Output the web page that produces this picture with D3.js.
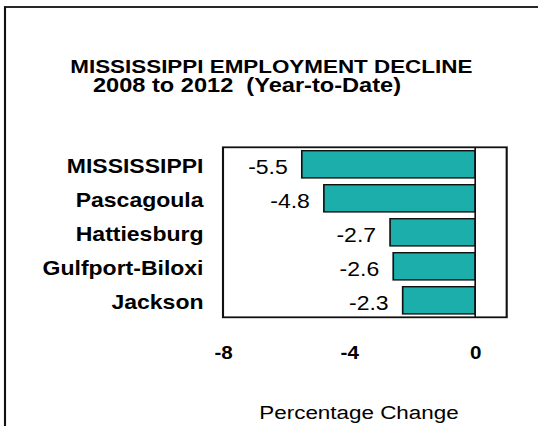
<!DOCTYPE html>
<html>
<head>
<meta charset="utf-8">
<script src="https://cdn.jsdelivr.net/npm/d3@7"></script>
<style>
  body { margin: 0; background: #fff; }
  svg { display: block; font-family: "Liberation Sans", Arial, sans-serif; }
</style>
</head>
<body>
<svg id="chart" width="538" height="426"></svg>
<script>
// datos
var areas = ["MISSISSIPPI", "Pascagoula", "Hattiesburg", "Gulfport-Biloxi", "Jackson"];
var cambio = [-5.5, -4.8, -2.7, -2.6, -2.3];
var ticksX = [-8, -4, 0];
var titulo = ["MISSISSIPPI EMPLOYMENT DECLINE", "2008 to 2012  (Year-to-Date)"];
var tituloEje = "Percentage Change";

// the original picture is stretched horizontally, so draw in a narrower
// logical space and let the viewBox widen it
var sx = 1.18,
    W = 538 / sx, H = 426;

var svg = d3.select("#chart")
    .attr("viewBox", "0 0 " + W + " " + H)
    .attr("preserveAspectRatio", "none");

var plot = {left: 223 / sx, right: 506.7 / sx, top: 147.3, bottom: 317.3};

var x = d3.scaleLinear()
    .domain([-8, 1])
    .range([plot.left, plot.right]);

var y = d3.scaleBand()
    .domain(areas)
    .range([plot.top, plot.bottom])
    .paddingInner(0.2)
    .paddingOuter(0.1);

var datos = areas.map(function(a, i) { return {area: a, valor: cambio[i]}; });

// marco exterior
svg.append("rect")
    .attr("x", 5 / sx)
    .attr("y", 7)
    .attr("width", W)
    .attr("height", H)
    .attr("fill", "none")
    .attr("stroke", "#111")
    .attr("stroke-width", 1.8);

// titulo
svg.append("text")
    .attr("x", 271.3 / sx)
    .attr("y", 72.7)
    .attr("text-anchor", "middle")
    .attr("font-weight", "bold")
    .attr("font-size", 19)
    .attr("fill", "#000")
    .text(titulo[0]);
svg.append("text")
    .attr("x", 247 / sx)
    .attr("y", 92.5)
    .attr("text-anchor", "middle")
    .attr("font-weight", "bold")
    .attr("font-size", 20)
    .attr("fill", "#000")
    .attr("xml:space", "preserve")
    .style("white-space", "pre")
    .text(titulo[1]);

// area del grafico
svg.append("rect")
    .attr("x", plot.left)
    .attr("y", plot.top)
    .attr("width", plot.right - plot.left)
    .attr("height", plot.bottom - plot.top)
    .attr("fill", "#fff")
    .attr("stroke", "#111")
    .attr("stroke-width", 1.8);

// barras
svg.append("g")
  .selectAll("rect")
  .data(datos)
  .enter().append("rect")
    .attr("x", function(d) { return x(d.valor); })
    .attr("y", function(d) { return y(d.area); })
    .attr("width", function(d) { return x(0) - x(d.valor); })
    .attr("height", y.bandwidth())
    .attr("fill", "#1BAEAA")
    .attr("stroke", "#111")
    .attr("stroke-width", 1.4);

// linea del cero
svg.append("line")
    .attr("x1", x(0)).attr("x2", x(0))
    .attr("y1", plot.top).attr("y2", plot.bottom)
    .attr("stroke", "#111")
    .attr("stroke-width", 1.4);

// etiquetas de valores
svg.append("g")
  .selectAll("text")
  .data(datos)
  .enter().append("text")
    .attr("x", function(d) { return x(d.valor) - 14 / sx; })
    .attr("y", function(d) { return y(d.area) + y.bandwidth() / 2 + 10; })
    .attr("text-anchor", "end")
    .attr("font-size", 19.5)
    .attr("fill", "#000")
    .text(function(d) { return d3.format(".1f")(d.valor).replace("−", "-"); });

// eje de categorias
var ejeY = svg.append("g")
    .attr("transform", "translate(" + (203.5 / sx) + ",0)")
    .call(d3.axisLeft(y).tickSize(0).tickPadding(0));
ejeY.select(".domain").remove();
ejeY.selectAll("text")
    .attr("dy", null)
    .attr("y", 8.5)
    .attr("font-family", "\"Liberation Sans\", Arial, sans-serif")
    .attr("font-size", 19.5)
    .attr("font-weight", "bold")
    .attr("fill", "#000");

// eje de valores
var ejeX = svg.append("g")
    .attr("transform", "translate(0," + plot.bottom + ")")
    .call(d3.axisBottom(x).tickValues(ticksX).tickSize(0).tickPadding(0)
      .tickFormat(function(d) { return String(d); }));
ejeX.select(".domain").remove();
ejeX.selectAll("text")
    .attr("dy", null)
    .attr("y", 41.5)
    .attr("font-family", "\"Liberation Sans\", Arial, sans-serif")
    .attr("font-size", 17.5)
    .attr("font-weight", "bold")
    .attr("fill", "#000");

svg.append("text")
    .attr("x", 359 / sx)
    .attr("y", 419)
    .attr("text-anchor", "middle")
    .attr("font-size", 19)
    .attr("fill", "#000")
    .text(tituloEje);
</script>
</body>
</html>
